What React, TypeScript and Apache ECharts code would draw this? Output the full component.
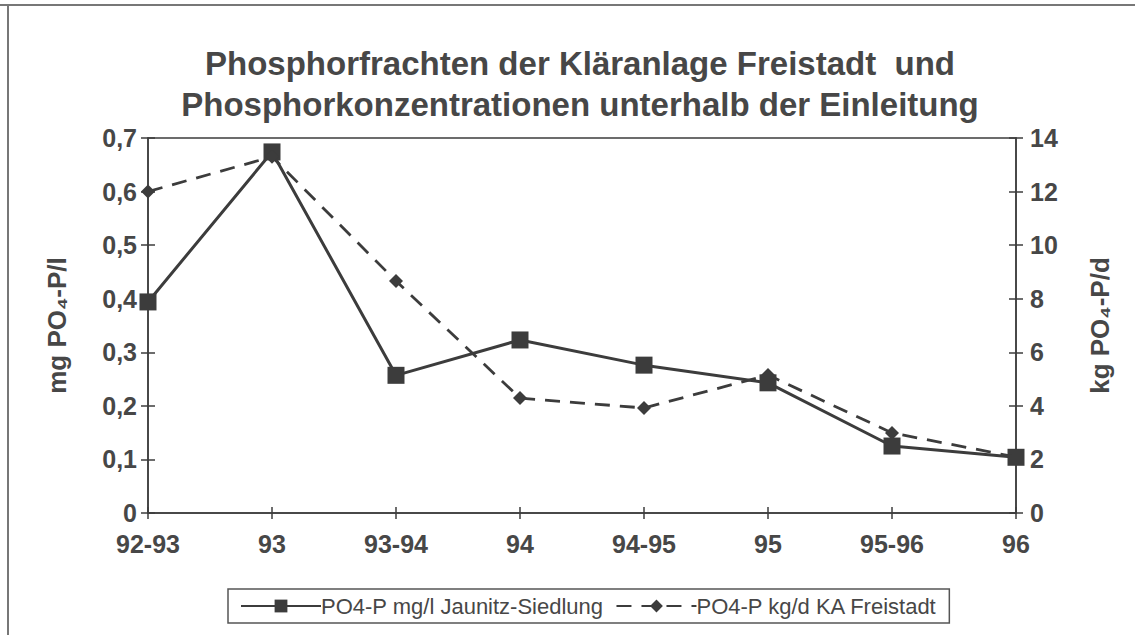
import React, { useEffect, useRef } from "react";
import * as echarts from "echarts";

const categories = ["92-93", "93", "93-94", "94", "94-95", "95", "95-96", "96"];
const concentration = [0.394, 0.674, 0.257, 0.323, 0.276, 0.243, 0.125, 0.104];
const load = [12.0, 13.3, 8.66, 4.29, 3.92, 5.15, 2.99, 2.09];
const seriesNames = ["PO4-P mg/l Jaunitz-Siedlung", "PO4-P kg/d KA Freistadt"];
const titleLines = [
  "Phosphorfrachten der Kläranlage Freistadt  und",
  "Phosphorkonzentrationen unterhalb der Einleitung",
];
const leftAxisName = "mg PO₄-P/l";
const rightAxisName = "kg PO₄-P/d";

const INK = "#3c3c3c";
const TXT = "#474747";
const FONT = "'Liberation Sans', Arial, sans-serif";

export default function App() {
  const ref = useRef<HTMLDivElement>(null);
  useEffect(() => {
    document.body.style.margin = "0";
    const chart = echarts.init(ref.current!, null, { renderer: "svg" });
    const tickLabel = { color: TXT, fontSize: 25, fontWeight: "bold" as const, fontFamily: FONT };
    chart.setOption({
      animation: false,
      backgroundColor: "#ffffff",
      title: {
        text: titleLines.join("\n"),
        left: 575,
        textAlign: "center",
        top: 38,
        textStyle: { color: TXT, fontSize: 33, fontWeight: "bold", fontFamily: FONT, lineHeight: 41 },
      },
      graphic: [
        { type: "line", shape: { x1: 0, y1: 5, x2: 1135, y2: 5 }, style: { stroke: "#777", lineWidth: 2 } },
        { type: "line", shape: { x1: 8, y1: 5, x2: 8, y2: 635 }, style: { stroke: "#777", lineWidth: 2 } },
      ],
      grid: {
        left: 148,
        right: 119,
        top: 138,
        bottom: 122,
        show: true,
        borderColor: INK,
        borderWidth: 1.5,
        backgroundColor: "transparent",
      },
      legend: {
        left: 228,
        top: 589,
        borderColor: "#555",
        borderWidth: 1.5,
        padding: [6, 12, 6, 12],
        itemWidth: 80,
        itemHeight: 16,
        itemGap: 12,
        textStyle: { color: TXT, fontSize: 22, fontFamily: FONT, padding: [0, 0, 0, -5] },
        data: seriesNames,
      },
      xAxis: [
        {
          type: "category",
          data: categories,
          boundaryGap: false,
          axisLine: { lineStyle: { color: INK, width: 1.5 } },
          axisTick: { alignWithLabel: true, length: 6, lineStyle: { color: INK, width: 1.5 } },
          axisLabel: { ...tickLabel, margin: 18 },
        },
        {
          type: "category",
          data: categories,
          boundaryGap: false,
          position: "bottom",
          axisLine: { show: false },
          axisTick: { inside: true, length: 6, lineStyle: { color: INK, width: 1.5 } },
          axisLabel: { show: false },
        },
      ],
      yAxis: [
        {
          type: "value",
          min: 0,
          max: 0.7,
          interval: 0.1,
          position: "left",
          name: leftAxisName,
          nameLocation: "middle",
          nameGap: 78,
          nameTextStyle: { color: TXT, fontSize: 26, fontWeight: "bold", fontFamily: FONT },
          splitLine: { show: false },
          axisLine: { show: true, lineStyle: { color: INK, width: 1.5 } },
          axisTick: { show: true, length: 7, lineStyle: { color: INK, width: 1.5 } },
          axisLabel: {
            ...tickLabel,
            margin: 11,
            formatter: (v: number) => (v === 0 ? "0" : v.toFixed(1).replace(".", ",")),
          },
        },
        {
          type: "value",
          min: 0,
          max: 14,
          interval: 2,
          position: "right",
          name: rightAxisName,
          nameLocation: "middle",
          nameGap: 71,
          nameRotate: 90,
          nameTextStyle: { color: TXT, fontSize: 26, fontWeight: "bold", fontFamily: FONT },
          splitLine: { show: false },
          axisLine: { show: true, lineStyle: { color: INK, width: 1.5 } },
          axisTick: { show: true, length: 7, lineStyle: { color: INK, width: 1.5 } },
          axisLabel: { ...tickLabel, margin: 14 },
        },
        {
          type: "value",
          min: 0,
          max: 0.7,
          interval: 0.1,
          position: "left",
          splitLine: { show: false },
          axisLine: { show: false },
          axisTick: { show: true, inside: true, length: 7, lineStyle: { color: INK, width: 1.5 } },
          axisLabel: { show: false },
        },
        {
          type: "value",
          min: 0,
          max: 14,
          interval: 2,
          position: "right",
          splitLine: { show: false },
          axisLine: { show: false },
          axisTick: { show: true, inside: true, length: 7, lineStyle: { color: INK, width: 1.5 } },
          axisLabel: { show: false },
        },
      ],
      series: [
        {
          name: seriesNames[1],
          type: "line",
          yAxisIndex: 1,
          data: load,
          symbol: "diamond",
          symbolSize: 14,
          itemStyle: { color: INK },
          lineStyle: { color: INK, width: 2.8, type: [15, 10] },
          z: 3,
        },
        {
          name: seriesNames[0],
          type: "line",
          yAxisIndex: 0,
          data: concentration,
          symbol: "rect",
          symbolSize: 17,
          itemStyle: { color: INK },
          lineStyle: { color: INK, width: 3 },
          z: 2,
        },
      ],
    });
    return () => chart.dispose();
  }, []);
  return <div ref={ref} style={{ width: 1135, height: 635 }} />;
}
